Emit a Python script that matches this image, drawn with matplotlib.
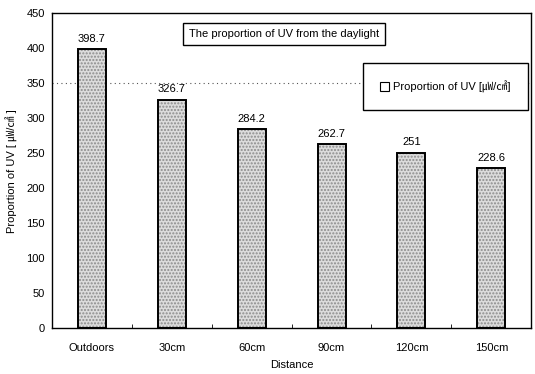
import numpy as np
import matplotlib.pyplot as plt

# UV share of daylight measured at increasing distance from the window
distances = ['Outdoors', '30cm', '60cm', '90cm', '120cm', '150cm']
uv_values = [398.7, 326.7, 284.2, 262.7, 251, 228.6]
value_labels = ['398.7', '326.7', '284.2', '262.7', '251', '228.6']

plt.rcParams['font.family'] = ['Liberation Sans', 'Noto Sans CJK KR', 'DejaVu Sans']
plt.rcParams['font.size'] = 8

fig = plt.figure(figsize=(5.35, 3.74), dpi=100)
ax = fig.add_axes([0.097, 0.123, 0.896, 0.841])

x = np.arange(len(distances))
ax.axhline(350, color='#555555', linestyle=(0, (1, 3)), linewidth=0.8, zorder=0)
bars = ax.bar(x, uv_values, width=0.35, facecolor='#dcdcdc', edgecolor='black',
              linewidth=1.4, hatch='.....', label='Proportion of UV [㎼/㎠]', zorder=2)
for b in bars:
    b._hatch_color = (0.55, 0.55, 0.55, 1.0)

for xi, v, txt in zip(x, uv_values, value_labels):
    ax.annotate(txt, (xi, v), xytext=(0, 4), textcoords='offset points',
                ha='center', va='bottom', fontsize=8)

ax.set_xlim(-0.5, len(distances) - 0.5)
ax.set_ylim(0, 450)
ax.set_yticks(np.arange(0, 451, 50))
ax.set_xticks(x)
ax.set_xticklabels(distances)
ax.set_xticks(np.arange(0.5, len(distances) - 0.5, 1), minor=True)
ax.tick_params(axis='x', which='major', length=0, pad=11)
ax.tick_params(axis='x', which='minor', direction='in', length=3)
ax.tick_params(axis='y', length=0, pad=5)

ax.set_xlabel('Distance', labelpad=5)
ax.set_ylabel('Proportion of UV [ ㎼/㎠ ]', labelpad=6)

for s in ax.spines.values():
    s.set_linewidth(1.0)

ax.text(0.484, 0.935, 'The proportion of UV from the daylight', transform=ax.transAxes,
        ha='center', va='center', fontsize=8,
        bbox=dict(boxstyle='square,pad=0.55', facecolor='white', edgecolor='black', linewidth=1.0))

leg = ax.legend(loc='upper right', bbox_to_anchor=(0.993, 0.843), fancybox=False,
                framealpha=1, edgecolor='black', fontsize=8, handlelength=0.8,
                handleheight=0.8, handletextpad=0.3, borderpad=1.6, borderaxespad=0)
leg.get_frame().set_linewidth(1.0)
for h in leg.legend_handles:
    h.set_hatch('')
    h.set_facecolor('white')
    h.set_linewidth(0.8)

fig.savefig('out.png', dpi=100)
